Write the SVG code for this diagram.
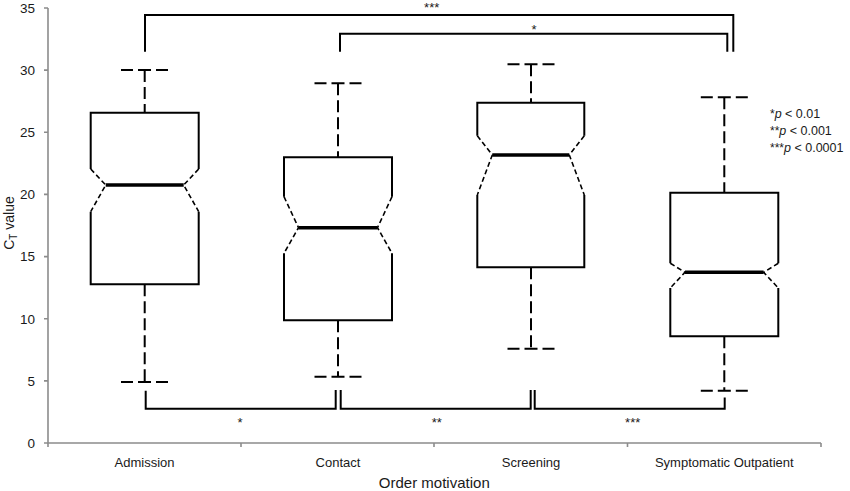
<svg xmlns="http://www.w3.org/2000/svg" width="850" height="491" viewBox="0 0 850 491">
<style>
text{font-family:"Liberation Sans",Arial,sans-serif;fill:#1a1a1a}
.axis{stroke:#8c8c8c;stroke-width:1.6;fill:none}
.box{stroke:#000;stroke-width:2;fill:none}
.notch{stroke:#000;stroke-width:1.6;fill:none;stroke-dasharray:5,3}
.med{stroke:#000;stroke-width:3.5}
.wh{stroke:#000;stroke-width:2;stroke-dasharray:12,5;fill:none}
.cap{stroke:#000;stroke-width:2;stroke-dasharray:12,5,13,5,12;fill:none}
.br{stroke:#000;stroke-width:2;fill:none}
.tick{font-size:13.5px;text-anchor:end}
.cat{font-size:13px;text-anchor:middle}
.sig{font-size:13px;text-anchor:middle}
.leg{font-size:12.5px}
</style>
<rect width="850" height="491" fill="#fff"/>
<g id="axes">
<path class="axis" d="M48,8V443H821"/>
<path class="axis" d="M44,8H48M44,70.1H48M44,132.3H48M44,194.4H48M44,256.6H48M44,318.7H48M44,380.9H48M44,443H48"/>
<path class="axis" d="M48,443V447M241,443V447M434,443V447M627.5,443V447M821,443V447"/>
<text class="tick" x="35" y="12.8">35</text>
<text class="tick" x="35" y="74.9">30</text>
<text class="tick" x="35" y="137.1">25</text>
<text class="tick" x="35" y="199.2">20</text>
<text class="tick" x="35" y="261.4">15</text>
<text class="tick" x="35" y="323.5">10</text>
<text class="tick" x="35" y="385.7">5</text>
<text class="tick" x="35" y="447.8">0</text>
<text class="cat" x="144.6" y="466.5">Admission</text>
<text class="cat" x="338" y="466.5">Contact</text>
<text class="cat" x="531" y="466.5">Screening</text>
<text class="cat" x="724.3" y="466.5">Symptomatic Outpatient</text>
<text x="434.3" y="487.5" font-size="15" text-anchor="middle">Order motivation</text>
<text transform="translate(14,223) rotate(-90)" font-size="14" text-anchor="middle">C<tspan font-size="10" dy="3">T</tspan><tspan dy="-3"> value</tspan></text>
</g>
<g id="box-admission">
<path class="wh" d="M144.7,70V112.7M144.7,284.3V382"/>
<path class="cap" d="M121,70H168M121,382H168"/>
<path class="box" d="M90.7,169V112.7H198.7V169M90.7,211.7V284.3H198.7V211.7"/>
<path class="notch" d="M90.7,169L105.7,185L90.7,211.7M198.7,169L183.7,185L198.7,211.7"/>
<path class="med" d="M105.7,185H183.7"/>
</g>
<g id="box-contact">
<path class="wh" d="M338,83.3V157.3M338,320.3V376.7"/>
<path class="cap" d="M314.5,83.3H361.5M314.5,376.7H361.5"/>
<path class="box" d="M284,196.7V157.3H392V196.7M284,253.3V320.3H392V253.3"/>
<path class="notch" d="M284,196.7L298.5,227.7L284,253.3M392,196.7L377.5,227.7L392,253.3"/>
<path class="med" d="M298.5,227.7H377.5"/>
</g>
<g id="box-screening">
<path class="wh" d="M531,64.3V102.7M531,267.3V348.7"/>
<path class="cap" d="M507.5,64.3H554.5M507.5,348.7H554.5"/>
<path class="box" d="M477.3,135.7V102.7H584.3V135.7M477.3,195V267.3H584.3V195"/>
<path class="notch" d="M477.3,135.7L492.3,155L477.3,195M584.3,135.7L569.3,155L584.3,195"/>
<path class="med" d="M492.3,155H569.3"/>
</g>
<g id="box-symptomatic">
<path class="wh" d="M724.3,97.3V192.7M724.3,336.3V390.7"/>
<path class="cap" d="M700.8,97.3H747.8M700.8,390.7H747.8"/>
<path class="box" d="M670.3,263.3V192.7H778.3V263.3M670.3,288V336.3H778.3V288"/>
<path class="notch" d="M670.3,263.3L685,272.3L670.3,288M778.3,263.3L763.6,272.3L778.3,288"/>
<path class="med" d="M685,272.3H763.6"/>
</g>
<g id="connectors">
<path class="br" d="M145,51.7V15H733.3V51.7"/>
<path class="br" d="M340,51.7V33.7H727.3V51.7"/>
<path class="br" d="M145.7,390.7V408.7H335.7V390"/>
<path class="br" d="M340.7,390V408.7H530.7V390"/>
<path class="br" d="M534.7,390V408.7H724.7V397.5"/>
<text class="sig" x="431.7" y="11.5">***</text>
<text class="sig" x="534" y="33.5">*</text>
<text class="sig" x="240" y="427">*</text>
<text class="sig" x="436.7" y="427">**</text>
<text class="sig" x="632.7" y="427">***</text>
</g>
<g id="legend">
<text class="leg" x="770" y="117.5"><tspan font-size="12">*</tspan><tspan font-style="italic">p</tspan> &lt; 0.01</text>
<text class="leg" x="770" y="134.5"><tspan font-size="12">**</tspan><tspan font-style="italic">p</tspan> &lt; 0.001</text>
<text class="leg" x="770" y="151.5"><tspan font-size="12">***</tspan><tspan font-style="italic">p</tspan> &lt; 0.0001</text>
</g>
</svg>
